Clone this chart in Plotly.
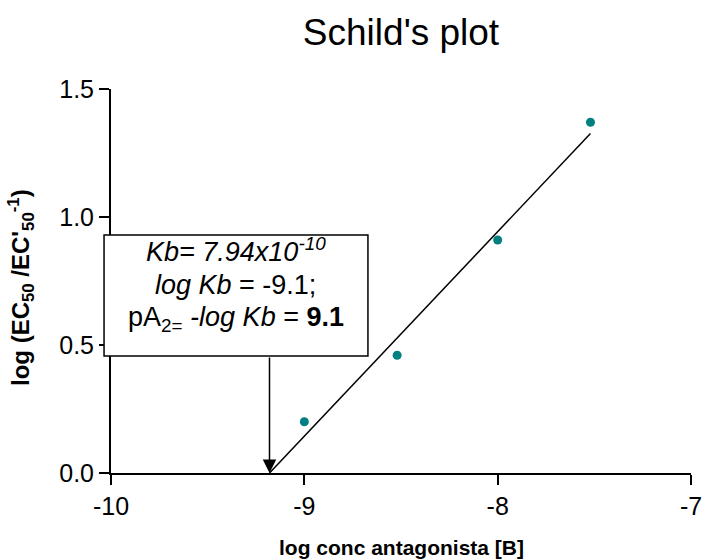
import numpy as np
import plotly.graph_objects as go

# Schild regression data: log antagonist concentration vs log(dose ratio - 1)
log_conc_b = [-9.0, -8.52, -8.0, -7.52]
log_dr_minus1 = [0.20, 0.46, 0.91, 1.37]

x_ticks = [-10, -9, -8, -7]
x_tick_text = ["-10", "-9", "-8", "-7"]
y_ticks = [0.0, 0.5, 1.0, 1.5]
y_tick_text = ["0.0", "0.5", "1.0", "1.5"]

X_RANGE = [-10, -7]
Y_RANGE = [0, 1.5]

FONT = "Liberation Sans, Arial, sans-serif"
TEAL = "#008080"

# Linear fit; the line runs from its x-intercept to the last concentration
slope, intercept = np.polyfit(log_conc_b, log_dr_minus1, 1)
x_int = -intercept / slope
fit_x = [x_int, max(log_conc_b)]
fit_y = [slope * v + intercept for v in fit_x]


def to_paper_x(v):
    return (v - X_RANGE[0]) / (X_RANGE[1] - X_RANGE[0])


def to_paper_y(v):
    return (v - Y_RANGE[0]) / (Y_RANGE[1] - Y_RANGE[0])


# Result box, in data units
box_x = [-10.036, -8.671]
box_y = [0.457, 0.930]
box_cx = (box_x[0] + box_x[1]) / 2

fig = go.Figure()
fig.add_trace(go.Scatter(
    x=fit_x, y=fit_y, mode="lines",
    line=dict(color="black", width=1.5),
    showlegend=False, hoverinfo="skip",
))
fig.add_trace(go.Scatter(
    x=log_conc_b, y=log_dr_minus1, mode="markers",
    marker=dict(color=TEAL, size=9),
    showlegend=False,
))

fig.add_shape(
    type="rect", xref="paper", yref="paper",
    x0=to_paper_x(box_x[0]), x1=to_paper_x(box_x[1]),
    y0=to_paper_y(box_y[0]), y1=to_paper_y(box_y[1]),
    line=dict(color="black", width=1.5), fillcolor="white", layer="above",
)

box_lines = [
    ("<i>Kb= 7.94x10<sup>-10</sup></i>", 0.872),
    ("<i>log Kb</i> = -9.1;", 0.735),
    ("pA<sub>2=</sub> <i>-log Kb</i> = <b>9.1</b>", 0.600),
]
annotations = []
for txt, yy in box_lines:
    annotations.append(dict(
        x=box_cx, y=yy, xref="x", yref="y", text=txt, showarrow=False,
        xanchor="center", yanchor="middle",
        font=dict(family=FONT, size=27, color="black"),
    ))

# Arrow from the box down to the x-intercept (pA2)
annotations.append(dict(
    x=x_int, y=0.0, ax=x_int, ay=box_y[0],
    xref="x", yref="y", axref="x", ayref="y",
    text="", showarrow=True, arrowhead=2, arrowsize=1.8, arrowwidth=1.5,
    arrowcolor="black", standoff=0, startstandoff=0,
))

# Axis titles
annotations.append(dict(
    x=0.5, y=-0.195, xref="paper", yref="paper",
    text="<b>log conc antagonista [B]</b>", showarrow=False,
    xanchor="center", yanchor="middle",
    font=dict(family=FONT, size=21, color="black"),
))
annotations.append(dict(
    x=-0.155, y=0.482, xref="paper", yref="paper",
    text="<b>log (EC<sub>50</sub> /EC'<sub>50</sub><sup>-1</sup>)</b>",
    showarrow=False, textangle=-90, xanchor="center", yanchor="middle",
    font=dict(family=FONT, size=24, color="black"),
))

axis_common = dict(
    showline=True, linecolor="black", linewidth=2,
    ticks="outside", ticklen=10, tickwidth=2, tickcolor="black",
    showgrid=False, zeroline=False, automargin=False,
    tickfont=dict(family=FONT, size=25, color="black"),
)

fig.update_layout(
    width=704, height=560,
    margin=dict(l=111, r=13, t=89, b=87, autoexpand=False),
    paper_bgcolor="white", plot_bgcolor="white",
    title=dict(
        text="Schild's plot", x=0.5, xref="paper", xanchor="center",
        y=1 - 32 / 560, yref="container", yanchor="middle",
        font=dict(family=FONT, size=37, color="black"),
    ),
    xaxis=dict(range=X_RANGE, tickvals=x_ticks, ticktext=x_tick_text, **axis_common),
    yaxis=dict(range=Y_RANGE, tickvals=y_ticks, ticktext=y_tick_text, **axis_common),
    annotations=annotations,
    font=dict(family=FONT),
)

fig.write_html("out.html")
